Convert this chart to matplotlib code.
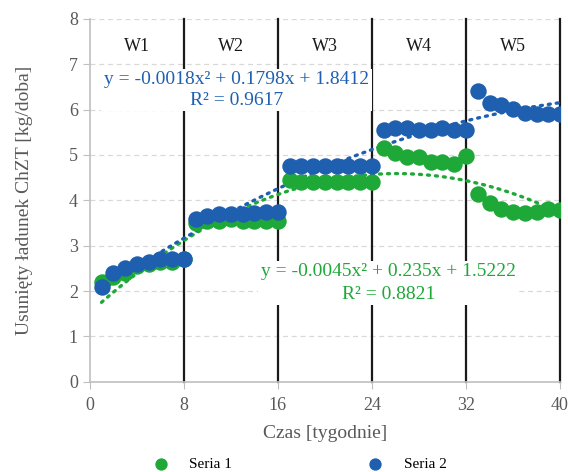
import numpy as np
import matplotlib.pyplot as plt

# tygodnie 1..40
weeks = list(range(1, 41))
seria1 = [2.20, 2.30, 2.40, 2.55, 2.60, 2.65, 2.65, 2.70,
          3.50, 3.55, 3.55, 3.60, 3.55, 3.55, 3.55, 3.55,
          4.45, 4.40, 4.40, 4.40, 4.40, 4.40, 4.40, 4.40,
          5.15, 5.05, 4.95, 4.95, 4.85, 4.85, 4.80, 4.97,
          4.15, 3.95, 3.80, 3.75, 3.72, 3.75, 3.80, 3.78]
seria2 = [2.10, 2.40, 2.50, 2.60, 2.65, 2.70, 2.70, 2.70,
          3.60, 3.65, 3.70, 3.70, 3.70, 3.72, 3.75, 3.75,
          4.75, 4.75, 4.75, 4.75, 4.75, 4.75, 4.75, 4.75,
          5.55, 5.60, 5.60, 5.55, 5.55, 5.60, 5.55, 5.55,
          6.40, 6.15, 6.10, 6.02, 5.93, 5.90, 5.90, 5.90]
coef1 = [-0.0045, 0.235, 1.5222]
coef2 = [-0.0018, 0.1798, 1.8412]
r2_1 = 0.8821
r2_2 = 0.9617
phases = ['W1', 'W2', 'W3', 'W4', 'W5']
bounds = [8, 16, 24, 32, 40]

green = '#1ea838'
blue = '#1f5fb0'
grey = '#595959'

plt.rcParams['font.family'] = ['Liberation Serif', 'DejaVu Serif']

fig = plt.figure(figsize=(5.68, 4.72), dpi=100)
ax = fig.add_axes([0.158, 0.191, 0.828, 0.769])

for y in range(1, 9):
    ax.axhline(y, color='#d9d9d9', lw=0.9, ls=(0, (4, 3)), zorder=0)

for b in bounds:
    ax.plot([b, b], [0, 8], color='#1a1a1a', lw=1.6, zorder=1, clip_on=False)

starts = [0] + bounds[:-1]
for name, a, b in zip(phases, starts, bounds):
    ax.text((a + b) / 2, 7.4, name, ha='center', va='center', fontsize=13, color='#1a1a1a')

xs = np.linspace(1, 40, 200)
ax.plot(xs, np.polyval(coef1, xs), color=green, lw=2.4, ls=(0, (0.6, 1.8)),
        dash_capstyle='round', zorder=2)
ax.plot(xs, np.polyval(coef2, xs), color=blue, lw=2.4, ls=(0, (0.6, 1.8)),
        dash_capstyle='round', zorder=2)

ax.scatter(weeks, seria1, s=140, color=green, zorder=3, label='Seria 1', linewidths=0)
ax.scatter(weeks, seria2, s=140, color=blue, zorder=4, label='Seria 2', linewidths=0)

def eq_label(c, r2):
    a, b, c0 = c
    return 'y = %gx² + %gx + %g\nR² = %.4f' % (a, b, c0, r2)

box = dict(facecolor='white', edgecolor='none', pad=2)
ax.text(12.5, 6.43, eq_label(coef2, r2_2), ha='center', va='center', fontsize=14,
        color=blue, linespacing=1.25, multialignment='center', bbox=box, zorder=5)
ax.text(25.4, 2.18, eq_label(coef1, r2_1), ha='center', va='center', fontsize=14,
        color=green, linespacing=1.4, multialignment='center', bbox=box, zorder=5)

ax.set_xlim(0, 40)
ax.set_ylim(0, 8)
ax.set_xticks([0, 8, 16, 24, 32, 40])
ax.set_yticks(range(0, 9))
ax.tick_params(axis='both', colors='#bfbfbf', labelcolor=grey, labelsize=13, length=5)
ax.tick_params(axis='x', pad=6)
for s in ['top', 'right']:
    ax.spines[s].set_visible(False)
for s in ['left', 'bottom']:
    ax.spines[s].set_color('#bfbfbf')
    ax.spines[s].set_linewidth(1.2)

ax.set_xlabel('Czas [tygodnie]', fontsize=14, color=grey, labelpad=8)
ax.set_ylabel('Usunięty ładunek ChZT [kg/doba]', fontsize=14, color=grey, labelpad=26)

fig.legend(loc='lower center', bbox_to_anchor=(0.521, -0.027), ncol=2, frameon=False,
           fontsize=11, columnspacing=8.4, handletextpad=0.85, markerscale=0.75)

fig.savefig('out.png', dpi=100)
